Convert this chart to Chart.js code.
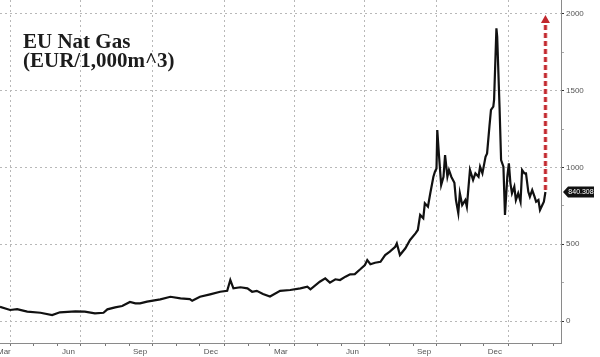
<!DOCTYPE html>
<html>
<head>
<meta charset="utf-8">
<script src="https://cdn.jsdelivr.net/npm/chart.js@4.4.0/dist/chart.umd.min.js"></script>
<style>
html, body { margin: 0; padding: 0; background: #fff; }
#wrap { position: relative; width: 600px; height: 357px; }
#title { position: absolute; left: 23px; top: 32px; font: bold 21px/19px 'Liberation Serif', 'Times New Roman', serif; color: #1c1c1c; }
</style>
</head>
<body>
<div id="wrap">
  <canvas id="gasChart" width="600" height="357"></canvas>
  <div id="title">EU Nat Gas<br>(EUR/1,000m^3)</div>
</div>
<script>
// ==================== DATA ====================
const dates = [
  '2020-03-19','2020-04-01','2020-04-10','2020-04-23','2020-05-10','2020-05-25','2020-06-04','2020-06-24',
  '2020-07-06','2020-07-19','2020-07-30','2020-08-04','2020-08-14','2020-08-23','2020-09-02','2020-09-09',
  '2020-09-15','2020-09-24','2020-10-11','2020-10-24','2020-11-06','2020-11-18','2020-11-21','2020-12-01',
  '2020-12-14','2020-12-27','2021-01-05','2021-01-09','2021-01-13','2021-01-22','2021-01-31','2021-02-06',
  '2021-02-12','2021-02-20','2021-03-01','2021-03-14','2021-03-27','2021-04-09','2021-04-18','2021-04-22',
  '2021-05-04','2021-05-11','2021-05-17','2021-05-24','2021-05-30','2021-06-06','2021-06-12','2021-06-18',
  '2021-06-25','2021-07-01','2021-07-04','2021-07-08','2021-07-14','2021-07-21','2021-07-27','2021-08-02',
  '2021-08-09','2021-08-11','2021-08-15','2021-08-22','2021-08-28','2021-09-04','2021-09-07','2021-09-10',
  '2021-09-14','2021-09-16','2021-09-20','2021-09-23','2021-09-27','2021-09-29','2021-10-01','2021-10-02',
  '2021-10-04','2021-10-07','2021-10-10','2021-10-12','2021-10-15','2021-10-17','2021-10-20','2021-10-24',
  '2021-10-26','2021-10-29','2021-10-31','2021-11-03','2021-11-07','2021-11-09','2021-11-13','2021-11-17',
  '2021-11-20','2021-11-24','2021-11-26','2021-11-29','2021-12-03','2021-12-05','2021-12-08','2021-12-10',
  '2021-12-13','2021-12-14','2021-12-17','2021-12-18','2021-12-21','2021-12-23','2021-12-26','2021-12-28',
  '2021-12-31','2022-01-02','2022-01-04','2022-01-06','2022-01-09','2022-01-11','2022-01-14','2022-01-17',
  '2022-01-19','2022-01-22','2022-01-24','2022-01-27','2022-01-29','2022-02-01','2022-02-04','2022-02-06',
  '2022-02-09','2022-02-11','2022-02-14','2022-02-16','2022-02-18'
];
const prices = [
  93, 72, 78, 61, 54, 39, 57, 63,
  61, 50, 54, 76, 89, 98, 124, 115,
  115, 126, 141, 158, 148, 143, 132, 158,
  174, 191, 197, 267, 213, 220, 213, 191,
  197, 176, 160, 197, 202, 213, 224, 206,
  256, 278, 250, 272, 267, 289, 304, 306,
  337, 365, 397, 370, 380, 386, 430, 452,
  484, 506, 430, 474, 528, 571, 593, 691,
  669, 767, 745, 832, 940, 973, 994, 1244,
  1092, 886, 940, 1081, 940, 984, 940, 900,
  788, 703, 832, 756, 788, 745, 984, 919,
  962, 940, 1005, 962, 1070, 1092, 1266, 1375,
  1396, 1440, 1907, 1852, 1396, 1049, 1005, 691,
  940, 1027, 897, 832, 875, 788, 832, 777,
  984, 962, 962, 842, 810, 853, 810, 777,
  788, 723, 756, 777, 840.308
];
const lastLabel = '840.308';
const arrowTarget = 2000;

// axis ticks / labels
const xStart = '2020-03-19';
const xEnd = '2022-03-10';
const quarterLines = ['2020-04-01','2020-07-01','2020-10-01','2021-01-01','2021-04-01','2021-07-01','2021-10-01','2022-01-01'];
const labelDates = ['2020-03-24','2020-06-15','2020-09-15','2020-12-15','2021-03-15','2021-06-15','2021-09-15','2021-12-15'];
const labelNames = ['Mar','Jun','Sep','Dec','Mar','Jun','Sep','Dec'];
const yTicks = [0, 250, 500, 750, 1000, 1250, 1500, 1750, 2000];
const yLabelStep = 500;
const yMin = -143, yMax = 2091;

// ==================== HELPERS ====================
const BASE = Date.UTC(2020, 3, 1);
function dayNum(s) {
    const [y, m, d] = s.split('-').map(Number);
    return (Date.UTC(y, m - 1, d) - BASE) / 864e5;
}
const points = dates.map((d, i) => ({ x: dayNum(d), y: prices[i] }));

// month starts for the small tick marks
const monthStarts = [];
for (let y = 2020, m = 4; y < 2022 || m <= 3; ) {
    monthStarts.push(`${y}-${String(m).padStart(2, '0')}-01`);
    m++; if (m > 12) { m = 1; y++; }
}
const quarterSet = new Set(quarterLines.map(dayNum));
const monthSet = new Set(monthStarts.map(dayNum));
const labelMap = new Map(labelDates.map((d, i) => [dayNum(d), labelNames[i]]));
const xTickValues = [...monthSet, ...labelMap.keys()].sort((a, b) => a - b);

const CLEAR = 'rgba(0,0,0,0)';
const GRID = '#b8b8b8';
const TICKFONT = { family: "'Liberation Sans', Arial, sans-serif", size: 8 };

// ==================== OVERLAY ====================
const overlay = {
    id: 'overlay',
    afterDatasetsDraw(chart) {
        const { ctx, scales: { x, y } } = chart;
        const last = points[points.length - 1];
        const px = x.getPixelForValue(last.x);
        const y0 = y.getPixelForValue(last.y) - 2;
        const yTop = y.getPixelForValue(arrowTarget);
        ctx.save();
        ctx.lineCap = 'butt';
        // soft halo
        ctx.strokeStyle = 'rgba(230,140,140,0.45)';
        ctx.lineWidth = 5;
        ctx.setLineDash([5, 3]);
        ctx.beginPath(); ctx.moveTo(px, y0); ctx.lineTo(px, yTop + 8); ctx.stroke();
        ctx.strokeStyle = '#c1272d';
        ctx.lineWidth = 2.6;
        ctx.beginPath(); ctx.moveTo(px, y0); ctx.lineTo(px, yTop + 8); ctx.stroke();
        ctx.setLineDash([]);
        ctx.fillStyle = '#c1272d';
        ctx.beginPath();
        ctx.moveTo(px, yTop + 1);
        ctx.lineTo(px - 4.5, yTop + 9);
        ctx.lineTo(px + 4.5, yTop + 9);
        ctx.closePath();
        ctx.fill();
        ctx.restore();
    },
    afterDraw(chart) {
        const { ctx, scales: { y } } = chart;
        const py = y.getPixelForValue(prices[prices.length - 1]);
        const left = y.left + 2;
        ctx.save();
        ctx.fillStyle = '#111';
        ctx.beginPath();
        ctx.moveTo(left, py);
        ctx.lineTo(left + 5, py - 5.5);
        ctx.lineTo(left + 31, py - 5.5);
        ctx.lineTo(left + 31, py + 5.5);
        ctx.lineTo(left + 5, py + 5.5);
        ctx.closePath();
        ctx.fill();
        ctx.fillStyle = '#fff';
        ctx.font = "7px 'Liberation Sans', Arial, sans-serif";
        ctx.textAlign = 'center';
        ctx.textBaseline = 'middle';
        ctx.fillText(lastLabel, left + 18, py + 0.5);
        ctx.restore();
    }
};

// ==================== CHART ====================
const chart = new Chart(document.getElementById('gasChart').getContext('2d'), {
    type: 'line',
    data: {
        datasets: [{
            data: points,
            borderColor: '#111',
            borderWidth: 2.2,
            pointRadius: 0,
            tension: 0,
            fill: false
        }]
    },
    options: {
        responsive: false,
        animation: false,
        devicePixelRatio: 1,
        layout: { padding: 0 },
        plugins: { legend: { display: false }, tooltip: { enabled: false } },
        scales: {
            x: {
                type: 'linear',
                position: 'bottom',
                min: dayNum(xStart),
                max: dayNum(xEnd),
                afterBuildTicks: s => { s.ticks = xTickValues.map(v => ({ value: v })); },
                afterFit: s => { s.height = 14; s.paddingLeft = 0; s.paddingRight = 0; },
                grid: {
                    color: c => (c.tick && quarterSet.has(c.tick.value)) ? GRID : CLEAR,
                    tickColor: c => (c.tick && monthSet.has(c.tick.value)) ? '#777' : CLEAR,
                    lineWidth: 1,
                    tickLength: 3
                },
                border: { color: '#8a8a8a', width: 1, dash: [2, 3] },
                ticks: {
                    autoSkip: false,
                    maxRotation: 0,
                    padding: 1,
                    color: '#555',
                    font: TICKFONT,
                    callback: v => labelMap.get(v) || ''
                }
            },
            y: {
                type: 'linear',
                position: 'right',
                min: yMin,
                max: yMax,
                afterBuildTicks: s => { s.ticks = yTicks.map(v => ({ value: v })); },
                afterFit: s => { s.width = 39; s.paddingTop = 0; s.paddingBottom = 0; },
                grid: {
                    color: c => (c.tick && c.tick.value % yLabelStep === 0) ? GRID : CLEAR,
                    tickColor: c => (c.tick && c.tick.value % yLabelStep === 0) ? '#333' : '#aaa',
                    lineWidth: 1,
                    tickLength: 3
                },
                border: { color: '#8a8a8a', width: 1, dash: [2, 3] },
                ticks: {
                    padding: 2,
                    color: '#555',
                    font: TICKFONT,
                    callback: v => (v % yLabelStep === 0 ? String(v) : '')
                }
            }
        }
    },
    plugins: [overlay]
});
</script>
</body>
</html>
